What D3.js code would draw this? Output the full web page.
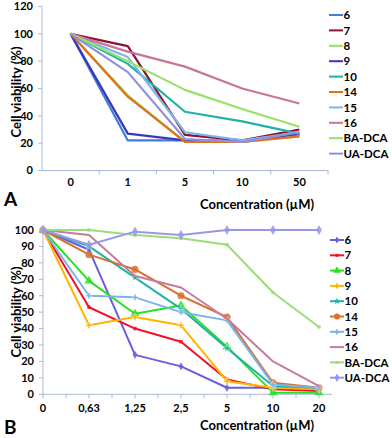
<!DOCTYPE html>
<html>
<head>
<meta charset="utf-8">
<script src="https://cdn.jsdelivr.net/npm/d3@7"></script>
<style>
  body { margin: 0; background: #fff; }
  svg text { font-family: Lato, "Open Sans", sans-serif; font-weight: bold; fill: #000; }
</style>
</head>
<body>
<svg id="chart" width="392" height="438"></svg>
<script>
// Series shared by both panels
const seriesNames = ['6', '7', '8', '9', '10', '14', '15', '16', 'BA-DCA', 'UA-DCA'];

// Panel A
const concA = ['0', '1', '5', '10', '50'];
const valuesA = [
    [100, 22, 22, 22, 26],
    [100, 91, 26, 22, 30],
    [100, 55, 21, 21, 25],
    [100, 27, 22, 21, 27],
    [100, 78, 43, 36, 27],
    [100, 54, 21, 21, 25],
    [100, 83, 28, 22, 28],
    [100, 87, 76, 60, 49],
    [100, 80, 59, 45, 32],
    [100, 72, 23, 21, 28]
];
const ticksA = [0, 20, 40, 60, 80, 100, 120];

// Panel B
const concB = ['0', '0,63', '1,25', '2,5', '5', '10', '20'];
const valuesB = [
    [100, 88, 24, 17, 4, 4, 3],
    [100, 53, 40, 32, 9, 3, 2],
    [100, 69, 49, 54, 29, 1, 1],
    [100, 42, 47, 42, 8, 4, 3],
    [100, 90, 71, 52, 28, 5, 4],
    [100, 85, 76, 60, 47, 7, 4],
    [100, 60, 59, 50, 45, 6, 4],
    [100, 97, 72, 65, 46, 20, 5],
    [100, 100, 97, 95, 91, 62, 41],
    [100, 91, 99, 97, 100, 100, 100]
];
const ticksB = [0, 10, 20, 30, 40, 50, 60, 70, 80, 90, 100];

const colorsA = ['#3f7fd6', '#8e1230', '#9ade62', '#3a35c4', '#1fb3a8', '#e0701e', '#7fb4ea', '#c87598', '#9ae06a', '#9090e0'];
const colorsB = ['#6a5ee0', '#f2102a', '#28e028', '#ffb400', '#1fb3a8', '#d9702e', '#79b3e8', '#c37c9f', '#9ade7a', '#9898e8'];
const markersB = [d3.symbolDiamond, d3.symbolSquare, d3.symbolTriangle, d3.symbolCross, d3.symbolStar, d3.symbolCircle, d3.symbolCross, null, d3.symbolSquare, d3.symbolDiamond];
const markerSizeB = [20, 12, 36, 22, 22, 40, 22, 0, 12, 30];

const axisColor = '#a9b9d6';
const svg = d3.select('#chart');

function yAxis(g, scale, ticks, x) {
    g.append('line')
        .attr('x1', x).attr('x2', x)
        .attr('y1', scale.range()[0]).attr('y2', scale.range()[1])
        .attr('stroke', axisColor);
    ticks.forEach(t => {
        g.append('line')
            .attr('x1', x - 4).attr('x2', x)
            .attr('y1', scale(t)).attr('y2', scale(t))
            .attr('stroke', axisColor);
        g.append('text')
            .attr('x', x - 9).attr('y', scale(t))
            .attr('text-anchor', 'end').attr('dy', '0.35em')
            .style('font-size', '11px')
            .text(t);
    });
}

function legend(g, x0, y0, step, colors, markers, sizes) {
    seriesNames.forEach((name, i) => {
        const y = y0 + i * step;
        g.append('line')
            .attr('x1', x0).attr('x2', x0 + 14)
            .attr('y1', y).attr('y2', y)
            .attr('stroke', colors[i]).attr('stroke-width', 2);
        if (markers && markers[i]) {
            g.append('path')
                .attr('d', d3.symbol(markers[i], sizes[i] * 0.7)())
                .attr('transform', `translate(${x0 + 7},${y})`)
                .attr('fill', colors[i]);
        }
        g.append('text')
            .attr('x', x0 + 14.5).attr('y', y)
            .attr('dy', '0.36em')
            .style('font-size', '11.5px')
            .text(name);
    });
}

function titles(g, cy, labelY, letterY, letter) {
    g.append('text')
        .attr('transform', `translate(21,${cy}) rotate(-90)`)
        .attr('text-anchor', 'middle')
        .style('font-size', '13px')
        .text('Cell viability (%)');
    g.append('text')
        .attr('x', 257).attr('y', labelY)
        .attr('text-anchor', 'middle')
        .style('font-size', '13px')
        .text('Concentration (\u00b5M)');
    g.append('text')
        .attr('x', 4).attr('y', letterY)
        .style('font-size', '19px')
        .text(letter);
}

// ---------- Panel A ----------
const gA = svg.append('g');
const xA = d3.scaleBand().domain(concA).range([42, 328]);
const yA = d3.scaleLinear().domain([0, 120]).range([170.5, 6.5]);

yAxis(gA, yA, ticksA, 42);

gA.append('line')
    .attr('x1', 42).attr('x2', 328)
    .attr('y1', yA(0)).attr('y2', yA(0))
    .attr('stroke', axisColor);
concA.forEach((c, i) => {
    const xt = 42 + xA.bandwidth() * (i + 1);
    gA.append('line')
        .attr('x1', xt).attr('x2', xt)
        .attr('y1', yA(0)).attr('y2', yA(0) + 4)
        .attr('stroke', axisColor);
    gA.append('text')
        .attr('x', xA(c) + xA.bandwidth() / 2).attr('y', 186)
        .attr('text-anchor', 'middle')
        .style('font-size', '11px')
        .text(c);
});

const lineA = d3.line()
    .x((d, i) => xA(concA[i]) + xA.bandwidth() / 2)
    .y(d => yA(d));

valuesA.forEach((vals, s) => {
    gA.append('path')
        .attr('d', lineA(vals))
        .attr('fill', 'none')
        .attr('stroke', colorsA[s])
        .attr('stroke-width', 2.2)
        .attr('stroke-linejoin', 'round');
});

legend(gA, 329, 15, 15.4, colorsA, null, null);
titles(gA, 92, 209, 206, 'A');

// ---------- Panel B ----------
const gB = svg.append('g');
const xB = d3.scalePoint().domain(concB).range([43, 319]);
const yB = d3.scaleLinear().domain([0, 100]).range([394.3, 230]);

yAxis(gB, yB, ticksB, 43);

gB.append('line')
    .attr('x1', 43).attr('x2', 332)
    .attr('y1', yB(0)).attr('y2', yB(0))
    .attr('stroke', axisColor);
const half = xB.step() / 2;
concB.forEach((c, i) => {
    [xB(c), xB(c) + half].forEach(xt => {
        if (xt > 332) return;
        gB.append('line')
            .attr('x1', xt).attr('x2', xt)
            .attr('y1', yB(0)).attr('y2', yB(0) + 4)
            .attr('stroke', axisColor);
    });
    gB.append('text')
        .attr('x', xB(c)).attr('y', 412)
        .attr('text-anchor', 'middle')
        .style('font-size', '11px')
        .text(c);
});

const lineB = d3.line()
    .x((d, i) => xB(concB[i]))
    .y(d => yB(d));

valuesB.forEach((vals, s) => {
    gB.append('path')
        .attr('d', lineB(vals))
        .attr('fill', 'none')
        .attr('stroke', colorsB[s])
        .attr('stroke-width', 2)
        .attr('stroke-linejoin', 'round');
    if (markersB[s]) {
        gB.selectAll(null)
            .data(vals)
            .enter()
            .append('path')
            .attr('d', d3.symbol(markersB[s], markerSizeB[s])())
            .attr('transform', (d, i) => `translate(${xB(concB[i])},${yB(d)})`)
            .attr('fill', colorsB[s])
            .attr('stroke', markersB[s] === d3.symbolCross || markersB[s] === d3.symbolStar ? '#fff' : 'none')
            .attr('stroke-width', 0.5)
            .attr('opacity', 0.85);
    }
});

legend(gB, 330, 240, 15.3, colorsB, markersB, markerSizeB);
titles(gB, 312, 430, 434, 'B');
</script>
</body>
</html>
